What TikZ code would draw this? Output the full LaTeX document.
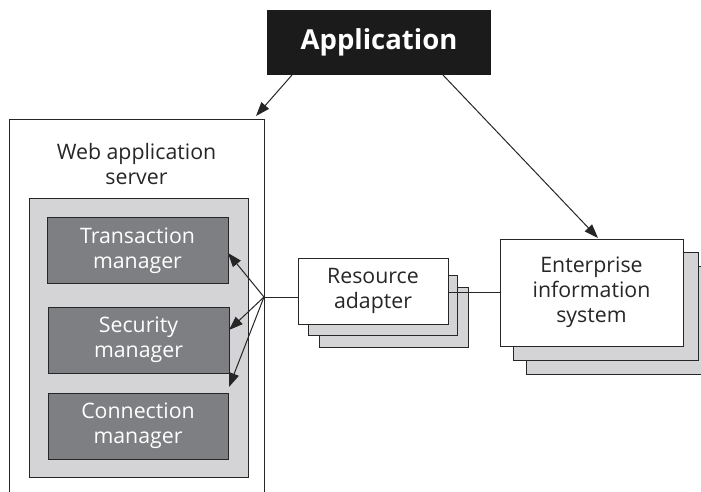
\documentclass[tikz,border=0pt]{standalone}
\usepackage{fontspec}
\setmainfont{Open Sans}
\usetikzlibrary{arrows.meta,calc}
\definecolor{lightbox}{HTML}{D4D4D6}
\definecolor{darkbox}{HTML}{7E7F82}
\definecolor{appbox}{HTML}{1C1B1B}
\definecolor{linec}{HTML}{262626}
\begin{document}
\begin{tikzpicture}[x=1pt,y=-1pt,
  every node/.style={inner sep=0pt, outer sep=0pt, align=center, font=\fontsize{21.3}{25}\selectfont, text=linec},
  plain/.style={draw=linec, line width=1pt, fill=white},
  lightfill/.style={draw=linec, line width=1pt, fill=lightbox},
  mgr/.style={draw=linec, line width=1pt, fill=darkbox, text=white, minimum width=181pt, minimum height=66pt},
  conn/.style={draw=linec, line width=1pt},
  arr/.style={conn, -{Triangle[length=14pt,width=10pt]}}
]
\useasboundingbox (0,0) rectangle (701,491);
\begin{scope}
\clip (0,0) rectangle (701,491);
% Application
\node[fill=appbox, minimum width=224pt, minimum height=65pt, text=white, font=\fontsize{27.5}{30}\selectfont\bfseries] (app) at (379,42.5) {Application};
% Web application server
\node[plain, minimum width=255pt, minimum height=384pt] (was) at (136.5,311) {};
\node (wastxt) at (136.5,164) {Web application\\server};
\node[lightfill, minimum width=219pt, minimum height=279pt] (inner) at (138.5,337.5) {};
\node[mgr] (tm) at (137.5,250.5) {Transaction\\manager};
\node[mgr] (sm) at (138.5,340) {Security\\manager};
\node[mgr, minimum width=180pt] (cm) at (138,426) {Connection\\manager};
% Resource adapter
\node[lightfill, minimum width=149pt, minimum height=60pt] (ra2) at (393.5,317) {};
\node[lightfill, minimum width=149pt, minimum height=60pt] (ra1) at (382.5,305) {};
\node[plain, minimum width=150pt, minimum height=66pt] (ra) at (373,291) {Resource\\adapter};
% EIS
\node[lightfill, minimum width=185pt, minimum height=108pt] (eis2) at (618.5,320) {};
\node[lightfill, minimum width=185pt, minimum height=108pt] (eis1) at (605.5,306) {};
\node[plain, minimum width=183pt, minimum height=107pt] (eis) at (591.5,292.5) {Enterprise\\information\\system};
% connectors
\coordinate (j) at (264,297);
\draw[conn] (j) -- (j -| ra.west);
\draw[conn] (eis.west -| ra.east) -- (eis.west);
\draw[arr] (j) -- ([yshift=-2.5pt]tm.east);
\draw[arr] (j) -- ([yshift=10pt]sm.east);
\draw[arr] (j) -- ([yshift=6pt,xshift=1pt]cm.north east);
\draw[arr] ([xshift=25pt]app.south west) -- ([xshift=-8pt,yshift=3pt]was.north east);
\draw[arr] ([xshift=-48pt]app.south east) -- ([xshift=6.5pt,yshift=1pt]eis.north);
\end{scope}
\end{tikzpicture}
\end{document}
